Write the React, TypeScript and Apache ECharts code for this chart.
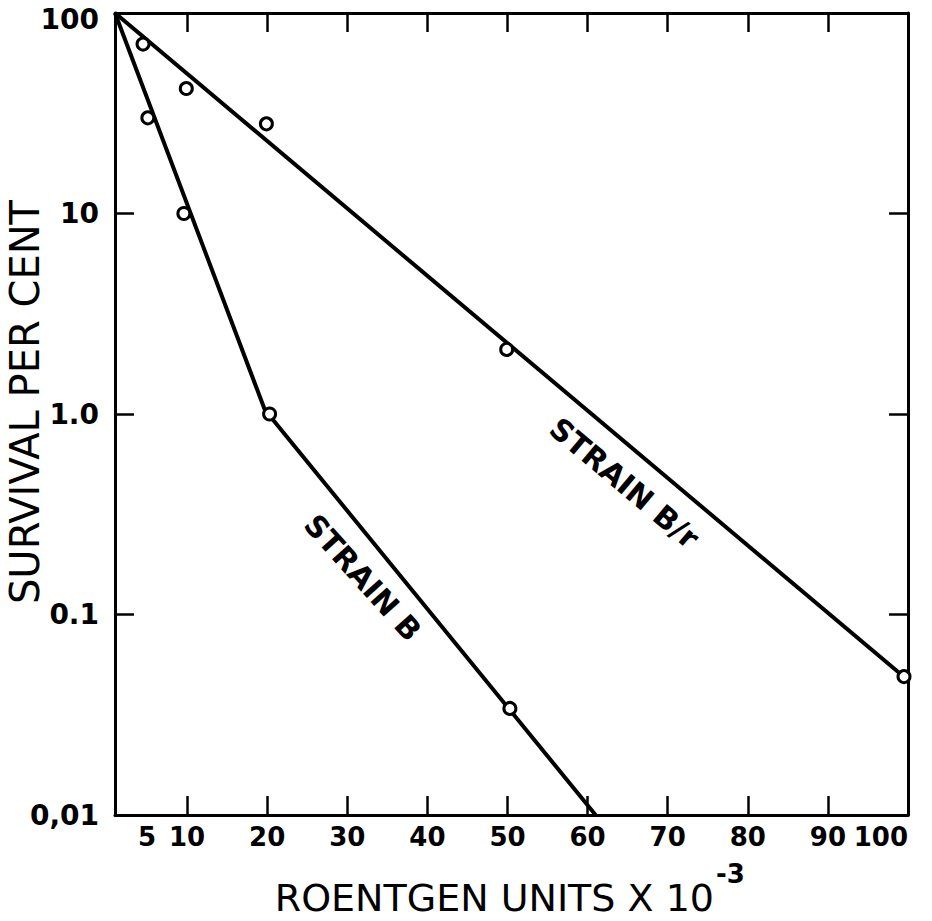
import React, { useEffect, useRef } from "react";
import * as echarts from "echarts";

// Data
const doseBr = [4.5, 9.9, 19.9, 49.9, 99.5];
const survivalBr = [70, 42, 28, 2.1, 0.049];
const doseB = [5.1, 9.6, 20.3, 50.3];
const survivalB = [30, 10, 1.0, 0.034];

// Fitted (hand-drawn) lines
const lineBrDose = [1, 100];
const lineBrSurv = [100, 0.047];
const lineBDose = [1, 19.7, 61];
const lineBSurv = [100, 1.05, 0.01];

const xTickValues = [10, 20, 30, 40, 50, 60, 70, 80, 90];
const xLabelValues = [5, 10, 20, 30, 40, 50, 60, 70, 80, 90, 100];
const yLabelMap: Record<string, string> = { "2": "100", "1": "10", "0": "1.0", "-1": "0.1", "-2": "0,01" };
const yTopLabel = "100";

const FONT = "DejaVu Sans";

export default function App() {
  const ref = useRef<HTMLDivElement>(null);
  useEffect(() => {
    if (!ref.current) return;
    const chart = echarts.init(ref.current, undefined, { renderer: "svg" });
    const pairs = (xs: number[], ys: number[]) => xs.map((x, i) => [x, ys[i]]);
    const axisLine = { show: true, lineStyle: { color: "#000", width: 3 } };
    const tickStyle = { color: "#000", width: 2.5 };
    chart.setOption({
      animation: false,
      backgroundColor: "#fff",
      grid: { left: 115, right: 24, top: 13, bottom: 106, containLabel: false },
      xAxis: [
        {
          type: "value",
          min: 1,
          max: 100,
          position: "bottom",
          axisLine,
          splitLine: { show: false },
          axisTick: { show: true, inside: true, length: 19, lineStyle: tickStyle, customValues: xTickValues },
          axisLabel: {
            show: true,
            customValues: xLabelValues,
            margin: 9,
            color: "#000",
            fontFamily: FONT,
            fontWeight: "bold",
            fontSize: 26,
            alignMaxLabel: "right",
            formatter: (v: number) => String(Math.round(v)),
          },
        },
        {
          type: "value",
          min: 1,
          max: 100,
          position: "top",
          axisLine,
          splitLine: { show: false },
          axisTick: { show: true, inside: true, length: 19, lineStyle: tickStyle, customValues: xTickValues },
          axisLabel: { show: false },
        },
      ],
      yAxis: [
        {
          type: "log",
          logBase: 10,
          min: 0.01,
          max: 100,
          position: "left",
          axisLine,
          splitLine: { show: false },
          minorTick: { show: false },
          axisTick: { show: true, inside: true, length: 19, lineStyle: tickStyle },
          axisLabel: {
            margin: 16,
            color: "#000",
            fontFamily: FONT,
            fontWeight: "bold",
            fontSize: 28,
            showMaxLabel: false,
            formatter: (v: number) => yLabelMap[String(Math.round(Math.log10(v)))] ?? "",
          },
        },
        {
          type: "log",
          logBase: 10,
          min: 0.01,
          max: 100,
          position: "right",
          axisLine,
          splitLine: { show: false },
          axisTick: { show: true, inside: true, length: 19, lineStyle: tickStyle },
          axisLabel: { show: false },
        },
      ],
      series: [
        {
          type: "line",
          data: pairs(lineBrDose, lineBrSurv),
          showSymbol: false,
          symbol: "none",
          lineStyle: { color: "#000", width: 4 },
          z: 2,
        },
        {
          type: "line",
          data: pairs(lineBDose, lineBSurv),
          showSymbol: false,
          symbol: "none",
          lineStyle: { color: "#000", width: 4 },
          z: 2,
        },
        {
          type: "scatter",
          data: pairs(doseBr, survivalBr),
          symbol: "circle",
          symbolSize: 12,
          itemStyle: { color: "#fff", borderColor: "#000", borderWidth: 3, opacity: 1 },
          z: 3,
        },
        {
          type: "scatter",
          data: pairs(doseB, survivalB),
          symbol: "circle",
          symbolSize: 12,
          itemStyle: { color: "#fff", borderColor: "#000", borderWidth: 3, opacity: 1 },
          z: 3,
        },
      ],
      graphic: [
        {
          type: "text",
          x: 99,
          y: 19,
          style: {
            text: yTopLabel,
            fill: "#000",
            fontFamily: FONT,
            fontWeight: "bold",
            fontSize: 28,
            textAlign: "right",
            textVerticalAlign: "middle",
          },
        },
        {
          type: "text",
          x: 25,
          y: 402,
          rotation: Math.PI / 2,
          style: {
            text: "SURVIVAL PER CENT",
            fill: "#000",
            fontFamily: FONT,
            fontSize: 40,
            textAlign: "center",
            textVerticalAlign: "middle",
          },
        },
        {
          type: "text",
          x: 714,
          y: 898,
          style: {
            text: "ROENTGEN UNITS X 10",
            fill: "#000",
            fontFamily: FONT,
            fontSize: 38,
            textAlign: "right",
            textVerticalAlign: "middle",
          },
        },
        {
          type: "text",
          x: 716,
          y: 874,
          style: {
            text: "-3",
            fill: "#000",
            fontFamily: FONT,
            fontWeight: "bold",
            fontSize: 26,
            textAlign: "left",
            textVerticalAlign: "middle",
          },
        },
        {
          type: "text",
          x: 554,
          y: 424,
          rotation: (-40 * Math.PI) / 180,
          style: {
            text: "STRAIN B/r",
            fill: "#000",
            fontFamily: FONT,
            fontWeight: "bold",
            fontSize: 30,
            textAlign: "left",
            textVerticalAlign: "middle",
          },
        },
        {
          type: "text",
          x: 310,
          y: 519,
          rotation: (-48 * Math.PI) / 180,
          style: {
            text: "STRAIN B",
            fill: "#000",
            fontFamily: FONT,
            fontWeight: "bold",
            fontSize: 30,
            textAlign: "left",
            textVerticalAlign: "middle",
          },
        },
      ],
    });
    return () => chart.dispose();
  }, []);
  return (
    <div
      ref={ref}
      style={{ position: "absolute", left: 0, top: 0, width: 932, height: 921, background: "#fff" }}
    />
  );
}
